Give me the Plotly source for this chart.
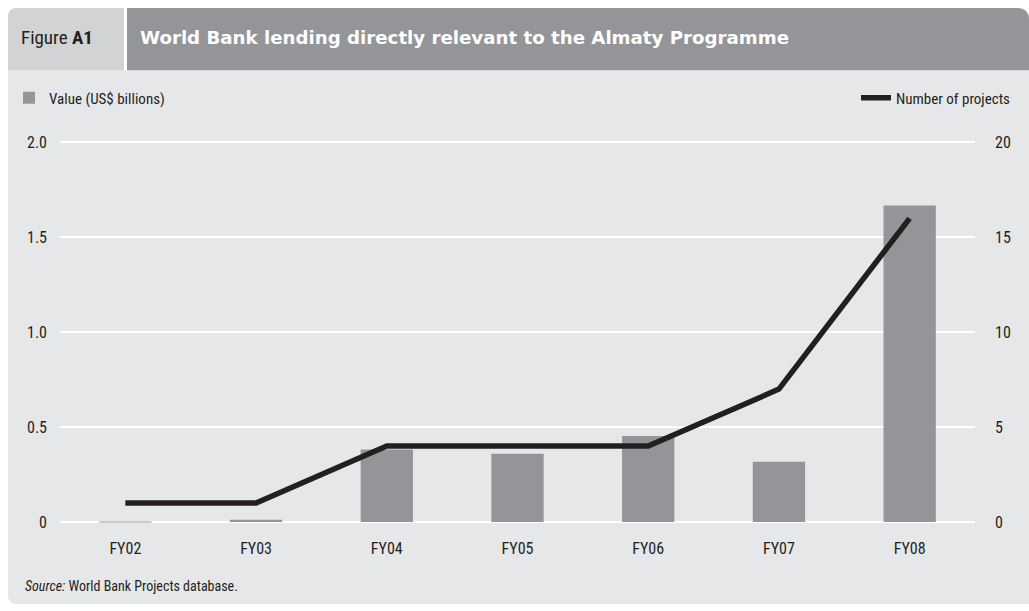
import plotly.graph_objects as go

W, H = 1029, 611

categories = ["FY02", "FY03", "FY04", "FY05", "FY06", "FY07", "FY08"]
value_bn = [0.002, 0.012, 0.382, 0.36, 0.453, 0.318, 1.667]
num_projects = [1, 1, 4, 4, 4, 7, 16]
left_ticks = [0, 0.5, 1.0, 1.5, 2.0]
left_tick_text = ["0", "0.5", "1.0", "1.5", "2.0"]
right_ticks = [0, 5, 10, 15, 20]

FONT = "Roboto Condensed, Liberation Sans Narrow, Arial Narrow, Liberation Sans, sans-serif"
TITLE_FONT = "DejaVu Sans, Liberation Sans, Arial, sans-serif"
TXT = "#231f20"
BAR = "#939598"
BODY = "#e6e7e8"
FIGBOX = "#d1d3d4"


def px(x):
    return x / W


def py(y):
    return 1 - y / H


def rounded_path(x0, y0, x1, y1, r_tl=0, r_tr=0, r_br=0, r_bl=0):
    pts = []
    pts.append(f"M {px(x0 + r_tl)} {py(y0)}")
    pts.append(f"L {px(x1 - r_tr)} {py(y0)}")
    if r_tr:
        pts.append(f"Q {px(x1)} {py(y0)} {px(x1)} {py(y0 + r_tr)}")
    pts.append(f"L {px(x1)} {py(y1 - r_br)}")
    if r_br:
        pts.append(f"Q {px(x1)} {py(y1)} {px(x1 - r_br)} {py(y1)}")
    pts.append(f"L {px(x0 + r_bl)} {py(y1)}")
    if r_bl:
        pts.append(f"Q {px(x0)} {py(y1)} {px(x0)} {py(y1 - r_bl)}")
    pts.append(f"L {px(x0)} {py(y0 + r_tl)}")
    if r_tl:
        pts.append(f"Q {px(x0)} {py(y0)} {px(x0 + r_tl)} {py(y0)}")
    pts.append("Z")
    return " ".join(pts)


fig = go.Figure()

fig.add_trace(go.Bar(
    x=categories, y=value_bn, name="Value (US$ billions)",
    marker=dict(color=BAR, line=dict(width=0)), width=0.4,
    legend="legend", yaxis="y",
))
fig.add_trace(go.Scatter(
    x=categories, y=num_projects, name="Number of projects",
    mode="lines", line=dict(color=TXT, width=5.5),
    legend="legend2", yaxis="y2",
))

# plot area pixel geometry
top_px, bot_px = 135, 531
pad = 6 / 192.0
dom_y = [py(bot_px), py(top_px)]

shapes = [
    dict(type="path", xref="paper", yref="paper", layer="below",
         path=rounded_path(8, 68, 1029, 608, r_bl=9),
         fillcolor=BODY, line=dict(width=0)),
    dict(type="path", xref="paper", yref="paper", layer="below",
         path=rounded_path(8, 5, 124, 68, r_tl=9),
         fillcolor=FIGBOX, line=dict(width=0)),
    dict(type="path", xref="paper", yref="paper", layer="below",
         path=rounded_path(127, 5, 1029, 68, r_tr=12),
         fillcolor=BAR, line=dict(width=0)),
]

annotations = [
    dict(xref="paper", yref="paper", x=px(19), y=py(35), xanchor="left", yanchor="middle",
         text="Figure <b>A1</b>", showarrow=False,
         font=dict(family=FONT, size=19, color=TXT)),
    dict(xref="paper", yref="paper", x=px(138), y=py(35), xanchor="left", yanchor="middle",
         text="<b>World Bank lending directly relevant to the Almaty Programme</b>",
         showarrow=False,
         font=dict(family=TITLE_FONT, size=18.2, color="white")),
    dict(xref="paper", yref="paper", x=px(23), y=py(590), xanchor="left", yanchor="middle",
         text="<i>Source:</i> World Bank Projects database.", showarrow=False,
         font=dict(family=FONT, size=14, color=TXT)),
]

fig.update_layout(
    width=W, height=H,
    margin=dict(l=0, r=0, t=0, b=0),
    paper_bgcolor="white",
    plot_bgcolor="rgba(0,0,0,0)",
    font=dict(family=FONT, color=TXT, size=16),
    xaxis=dict(
        domain=[px(60), px(975)], range=[-0.5, 6.5],
        showgrid=False, zeroline=False, showline=False, ticks="",
        tickfont=dict(family=FONT, size=16, color=TXT), ticklabelstandoff=9,
    ),
    yaxis=dict(
        domain=dom_y, range=[-pad, 2.0 + pad],
        tickvals=left_ticks, ticktext=left_tick_text,
        showgrid=True, gridcolor="white", gridwidth=1.5,
        zeroline=False, showline=False, ticks="",
        tickfont=dict(family=FONT, size=16, color=TXT), ticklabelstandoff=12,
    ),
    yaxis2=dict(
        overlaying="y", side="right", range=[-pad * 10, 20 + pad * 10],
        tickvals=right_ticks, showgrid=False, zeroline=False, showline=False, ticks="",
        tickfont=dict(family=FONT, size=16, color=TXT), ticklabelstandoff=19,
    ),
    legend=dict(
        x=px(9), y=py(96), xanchor="left", yanchor="middle",
        bgcolor="rgba(0,0,0,0)", font=dict(family=FONT, size=15, color=TXT),
        itemwidth=30,
    ),
    legend2=dict(
        x=px(1016), y=py(96), xanchor="right", yanchor="middle",
        bgcolor="rgba(0,0,0,0)", font=dict(family=FONT, size=15, color=TXT),
        itemwidth=30,
    ),
    shapes=shapes,
    annotations=annotations,
    showlegend=True,
)

fig.write_html(
    "out.html",
    config={"displayModeBar": False},
    post_script="document.body.style.margin='0';document.body.style.overflow='hidden';",
)
